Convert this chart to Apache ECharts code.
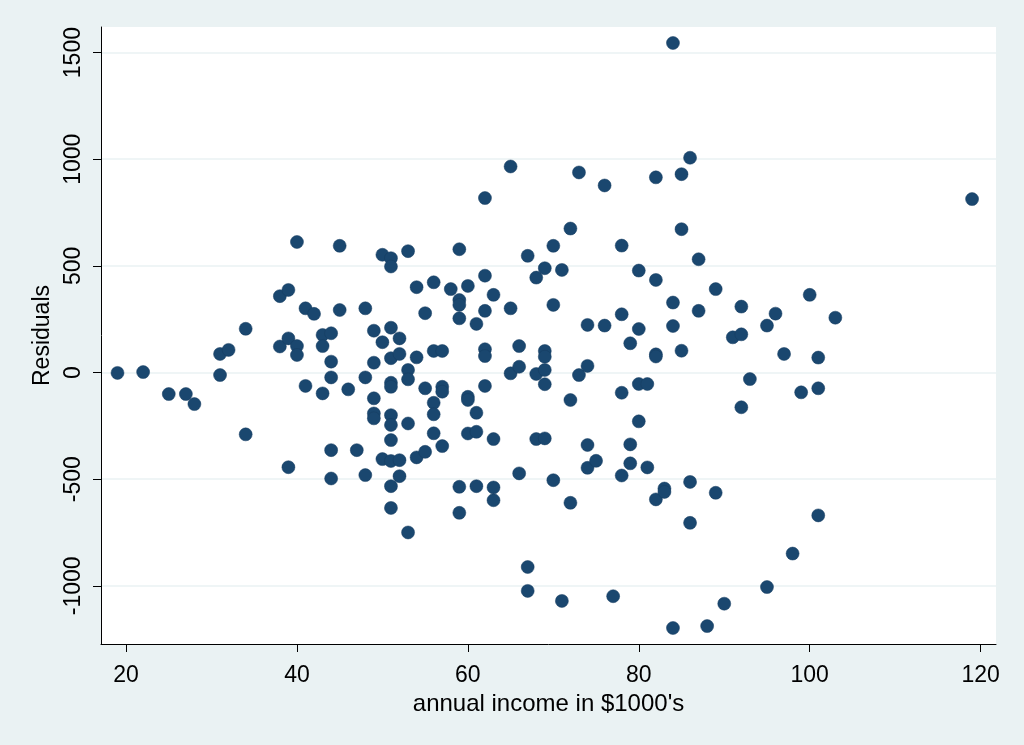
<!DOCTYPE html>
<html>
<head>
<meta charset="utf-8">
<script src="https://cdn.jsdelivr.net/npm/echarts@6/dist/echarts.min.js"></script>
<style>
html,body{margin:0;padding:0;background:#eaf2f3;}
#chart{width:1024px;height:745px;}
</style>
</head>
<body>
<div id="chart"></div>
<script>
// annual income in $1000's (x) and residuals (y)
const income = [
  19, 22, 25, 27, 28, 31, 31, 32, 34, 34,
  38, 38, 39, 39, 39, 40, 40, 40, 41, 41,
  42, 43, 43, 43, 44, 44, 44, 44, 44, 45,
  45, 46, 47, 48, 48, 48, 49, 49, 49, 49,
  49, 50, 50, 50, 51, 51, 51, 51, 51, 51,
  51, 51, 51, 51, 51, 51, 52, 52, 52, 52,
  53, 53, 53, 53, 53, 54, 54, 54, 55, 55,
  55, 56, 56, 56, 56, 56, 57, 57, 57, 57,
  58, 59, 59, 59, 59, 59, 59, 60, 60, 60,
  60, 61, 61, 61, 61, 62, 62, 62, 62, 62,
  62, 63, 63, 63, 63, 65, 65, 65, 66, 66,
  66, 67, 67, 67, 68, 68, 68, 69, 69, 69,
  69, 69, 69, 70, 70, 70, 71, 71, 72, 72,
  72, 73, 73, 74, 74, 74, 74, 75, 76, 76,
  77, 78, 78, 78, 78, 79, 79, 79, 80, 80,
  80, 80, 81, 81, 82, 82, 82, 82, 82, 83,
  83, 84, 84, 84, 84, 85, 85, 85, 86, 86,
  86, 87, 87, 88, 89, 89, 90, 91, 92, 92,
  92, 93, 95, 95, 96, 97, 98, 99, 100, 101,
  101, 101, 103, 119
];
const residual = [
  -2, 2, -101, -101, -148, 87, -12, 106, 205, -290,
  358, 122, 387, 160, -444, 612, 124, 82, 301, -63,
  275, 176, 124, -98, 184, 51, -23, -364, -497, 594,
  293, -79, -364, 301, -23, -481, 196, 46, -121, -192,
  -215, 552, 142, -406, 536, 497, 210, 67, -48, -67,
  -200, -246, -317, -415, -533, -635, 160, 87, -411, -486,
  569, 12, -32, -239, -750, 400, 71, -398, 278, -74,
  -372, 423, 101, -142, -196, -285, 101, -67, -90, -345,
  391, 578, 340, 317, 254, -536, -658, 406, -114, -129,
  -286, 228, -189, -278, -533, 818, 454, 289, 109, 77,
  -63, 364, -312, -539, -599, 966, 301, -4, 124, 27,
  -473, 547, -912, -1024, 445, -7, -312, 489, 101, 74,
  12, -55, -309, 594, 317, -505, 481, -1071, 675, -129,
  -611, 938, -12, 223, 31, -340, -447, -414, 877, 220,
  -1049, 595, 273, -95, -483, 137, -337, -426, 478, 204,
  -54, -229, -54, -445, 915, 434, 85, 75, -595, -544,
  -560, 1545, 328, 218, -1198, 930, 672, 102, 1007, -513,
  -705, 531, 289, -1189, 391, -564, -1084, 165, 309, 179,
  -163, -31, 220, -1006, 276, 87, -849, -93, 364, 70,
  -74, -670, 257, 813
];
const xTicks = [20, 40, 60, 80, 100, 120];
const yTicks = [-1000, -500, 0, 500, 1000, 1500];

const points = income.map((v, i) => [v, residual[i]]);
const FONT = 'Liberation Sans';

const chart = echarts.init(document.getElementById('chart'));
chart.setOption({
  backgroundColor: '#eaf2f3',
  animation: false,
  grid: {
    left: 101, right: 28, top: 27, bottom: 101,
    show: true, backgroundColor: '#ffffff', borderWidth: 0
  },
  xAxis: {
    type: 'value',
    min: 17.07, max: 121.8,
    name: "annual income in $1000's",
    nameLocation: 'middle',
    nameGap: 45,
    nameTextStyle: { fontFamily: FONT, fontSize: 24, color: '#000' },
    axisLine: { show: true, onZero: false, lineStyle: { color: '#000', width: 1 } },
    axisTick: { show: true, length: 8, customValues: xTicks, lineStyle: { color: '#000' } },
    axisLabel: { customValues: xTicks, margin: 20, fontFamily: FONT, fontSize: 23, color: '#000',
      formatter: v => String(v) },
    splitLine: { show: false }
  },
  yAxis: {
    type: 'value',
    min: -1273, max: 1620,
    name: 'Residuals',
    nameLocation: 'middle',
    nameGap: 45,
    nameRotate: 90,
    nameTextStyle: { fontFamily: FONT, fontSize: 23, color: '#000' },
    axisLine: { show: true, onZero: false, lineStyle: { color: '#000', width: 1 } },
    axisTick: { show: true, length: 8, customValues: yTicks, lineStyle: { color: '#000' } },
    axisLabel: { customValues: yTicks, rotate: 90, margin: 16, fontFamily: FONT, fontSize: 23, color: '#000',
      formatter: v => String(v) },
    splitLine: { show: true, lineStyle: { color: '#eaf2f3', width: 1.5 } }
  },
  series: [{
    type: 'scatter',
    data: points,
    symbol: 'circle',
    symbolSize: 13,
    itemStyle: { color: '#1a476f', borderColor: '#163d60', borderWidth: 0.5, opacity: 1 }
  }]
});
</script>
</body>
</html>
